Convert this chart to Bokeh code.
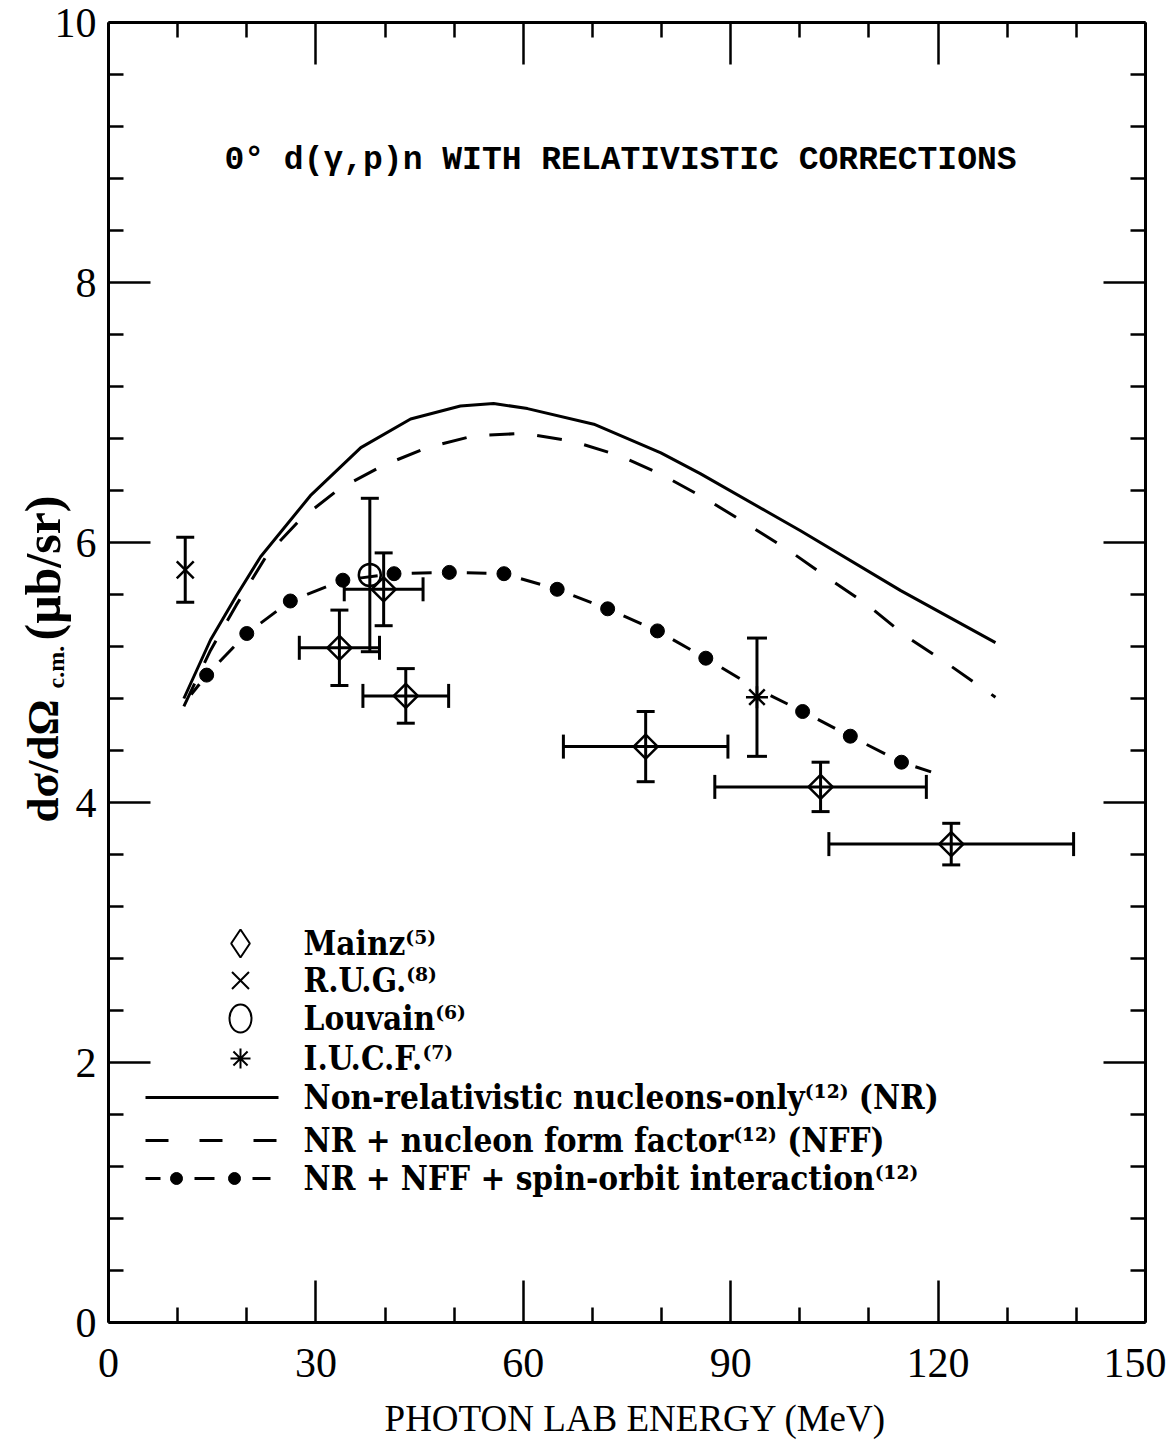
import math
from bokeh.plotting import figure
from bokeh.models import (Range1d, LinearAxis, FixedTicker, Label, Whisker, TeeHead,
                          ColumnDataSource, CustomJSTickFormatter)
from bokeh.embed import file_html
from bokeh.resources import INLINE

# ---------------- data ----------------
x_ticks = [0, 30, 60, 90, 120, 150]
x_minor = [10, 20, 40, 50, 70, 80, 100, 110, 130, 140]
y_ticks = [0, 2, 4, 6, 8, 10]
y_minor = [0.4, 0.8, 1.2, 1.6, 2.4, 2.8, 3.2, 3.6, 4.4, 4.8, 5.2, 5.6,
           6.4, 6.8, 7.2, 7.6, 8.4, 8.8, 9.2, 9.6]

# Mainz (diamonds) : energy, energy half-width, cross section, error
mainz_e = [33.4, 39.8, 43.0, 77.7, 103.0, 121.9]
mainz_de = [5.8, 5.7, 6.2, 11.9, 15.3, 17.7]
mainz_s = [5.19, 5.64, 4.82, 4.43, 4.12, 3.68]
mainz_ds = [0.29, 0.28, 0.21, 0.27, 0.19, 0.16]

# R.U.G. (x)
rug_e = [11.1]
rug_s = [5.79]
rug_ds = [0.25]

# Louvain (octagon)
louv_e = [37.8]
louv_s = [5.75]
louv_ds = [0.59]

# I.U.C.F. (asterisk)
iucf_e = [93.8]
iucf_s = [4.81]
iucf_ds = [0.455]

# Non-relativistic nucleons-only (NR)
nr_e = [10.9, 14.75, 18.5, 22.0, 29.2, 36.5, 43.7, 50.9, 55.7, 60.6, 70.2,
        79.9, 85.6, 100.1, 114.6, 128.3]
nr_s = [4.80, 5.25, 5.59, 5.89, 6.36, 6.73, 6.95, 7.05, 7.07, 7.03, 6.91,
        6.69, 6.53, 6.09, 5.63, 5.23]

# NR + nucleon form factor (NFF)
nff_e = [10.9, 14.75, 18.5, 23.0, 27.8, 33.3, 39.6, 46.1, 52.8, 60.1, 67.1,
         73.8, 80.1, 86.6, 92.4, 98.4, 104.0, 109.8, 115.3, 121.3, 128.3]
nff_s = [4.74, 5.17, 5.52, 5.91, 6.18, 6.41, 6.59, 6.73, 6.82, 6.84, 6.78,
         6.67, 6.52, 6.33, 6.14, 5.94, 5.73, 5.52, 5.28, 5.07, 4.81]

# NR + NFF + spin-orbit interaction
so_e = [10.9, 14.2, 20.0, 26.3, 33.9, 41.3, 49.3, 57.2, 64.9, 72.2, 79.4,
        86.4, 93.6, 100.4, 107.3, 114.7, 121.0]
so_s = [4.76, 4.98, 5.30, 5.55, 5.71, 5.76, 5.77, 5.76, 5.64, 5.49, 5.32,
        5.11, 4.88, 4.70, 4.51, 4.31, 4.20]
so_marked = [False, True, True, True, True, True, True, True, True, True, True,
             True, False, True, True, True, False]

legend_names = ["Mainz⁽⁵⁾", "R.U.G.⁽⁸⁾", "Louvain⁽⁶⁾", "I.U.C.F.⁽⁷⁾",
                "Non-relativistic nucleons-only⁽¹²⁾ (NR)",
                "NR + nucleon form factor⁽¹²⁾ (NFF)",
                "NR + NFF + spin-orbit interaction⁽¹²⁾"]

# ---------------- layout ----------------
W, H = 1166, 1444
L, R, T, B = 108, 1145, 22, 1322   # plot box in page pixels
XMAX, YMAX = 150.0, 10.0


def dx(px):
    return (px - L) * XMAX / (R - L)


def dy(py):
    return (B - py) * YMAX / (B - T)


# the frame covers the whole page; the axes are pinned at the data box
p = figure(width=W, height=H, output_backend="svg", toolbar_location=None,
           x_range=Range1d(dx(0), dx(W)), y_range=Range1d(dy(H), dy(0)),
           min_border=0, min_border_left=0, min_border_right=0,
           min_border_top=0, min_border_bottom=0,
           x_axis_location=None, y_axis_location=None)
p.title.visible = False
p.background_fill_color = "white"
p.border_fill_color = "white"
p.outline_line_color = None
p.xgrid.visible = False
p.ygrid.visible = False

TICK_FONT = "Liberation Serif"


def make_axis(ticks, minor, show_labels, standoff, loc, bounds):
    ax = LinearAxis(ticker=FixedTicker(ticks=ticks, minor_ticks=minor),
                    fixed_location=loc, bounds=bounds)
    ax.axis_line_width = 3
    ax.axis_line_color = "black"
    ax.major_tick_in = 42
    ax.major_tick_out = 0
    ax.minor_tick_in = 15
    ax.minor_tick_out = 0
    ax.major_tick_line_width = 2.5
    ax.minor_tick_line_width = 2.5
    ax.major_label_standoff = standoff
    ax.major_label_text_font = TICK_FONT
    ax.major_label_text_font_size = "42px"
    ax.major_label_text_color = "black"
    if not show_labels:
        ax.formatter = CustomJSTickFormatter(code="return ''")
    return ax


p.add_layout(make_axis(x_ticks, x_minor, True, 26, 0, (0, XMAX)), "below")
p.add_layout(make_axis(x_ticks, x_minor, False, 0, YMAX, (0, XMAX)), "above")
p.add_layout(make_axis(y_ticks, y_minor, True, 12, 0, (0, YMAX)), "left")
p.add_layout(make_axis(y_ticks, y_minor, False, 0, XMAX, (0, YMAX)), "right")

# ---------------- curves ----------------
p.line(nr_e, nr_s, line_color="black", line_width=3)
p.line(nff_e, nff_s, line_color="black", line_width=3, line_dash="25 23")

n = len(so_e)
sx0 = [so_e[i] + 0.32 * (so_e[i + 1] - so_e[i]) for i in range(n - 1)]
sy0 = [so_s[i] + 0.32 * (so_s[i + 1] - so_s[i]) for i in range(n - 1)]
sx1 = [so_e[i] + 0.68 * (so_e[i + 1] - so_e[i]) for i in range(n - 1)]
sy1 = [so_s[i] + 0.68 * (so_s[i + 1] - so_s[i]) for i in range(n - 1)]
p.segment(sx0, sy0, sx1, sy1, line_color="black", line_width=3)
ce = [e for e, m in zip(so_e, so_marked) if m]
cs = [s for s, m in zip(so_s, so_marked) if m]
p.scatter(ce, cs, marker="circle", size=14, fill_color="black", line_color="black")

# ---------------- error bars ----------------
def vbars(e, s, ds, head):
    src = ColumnDataSource(dict(x=e, lo=[a - b for a, b in zip(s, ds)],
                                hi=[a + b for a, b in zip(s, ds)]))
    p.add_layout(Whisker(source=src, base="x", lower="lo", upper="hi",
                         dimension="height", line_width=3, line_color="black",
                         lower_head=TeeHead(size=head, line_width=3),
                         upper_head=TeeHead(size=head, line_width=3)))


def hbars(e, de, s, head):
    src = ColumnDataSource(dict(y=s, lo=[a - b for a, b in zip(e, de)],
                                hi=[a + b for a, b in zip(e, de)]))
    p.add_layout(Whisker(source=src, base="y", lower="lo", upper="hi",
                         dimension="width", line_width=3, line_color="black",
                         lower_head=TeeHead(size=head, line_width=3),
                         upper_head=TeeHead(size=head, line_width=3)))


vbars(mainz_e, mainz_s, mainz_ds, 18)
hbars(mainz_e, mainz_de, mainz_s, 24)
vbars(rug_e, rug_s, rug_ds, 18)
vbars(louv_e, louv_s, louv_ds, 18)
vbars(iucf_e, iucf_s, iucf_ds, 20)

# ---------------- markers ----------------
p.scatter(mainz_e, mainz_s, marker="square", angle=math.pi / 4, size=17,
          fill_color=None, line_color="black", line_width=2.5)
p.scatter(rug_e, rug_s, marker="x", size=24, line_color="black", line_width=2.5)
p.scatter(louv_e, louv_s, marker="circle", size=22, fill_color=None,
          line_color="black", line_width=2.5)
p.scatter(iucf_e, iucf_s, marker="asterisk", size=22, line_color="black",
          line_width=2.5)

# ---------------- legend (drawn by hand) ----------------
rows = [943, 980, 1018, 1058, 1097, 1140, 1178]
sym_px = 240
txt_px = 303
p.scatter([dx(sym_px)], [dy(rows[0])], marker="diamond", size=28, fill_color=None,
          line_color="black", line_width=2)
p.scatter([dx(sym_px)], [dy(rows[1])], marker="x", size=24, line_color="black",
          line_width=2)
p.ellipse([dx(sym_px)], [dy(rows[2])], width=22, height=28, width_units="screen",
          height_units="screen", fill_color=None, line_color="black", line_width=2)
p.scatter([dx(sym_px)], [dy(rows[3])], marker="asterisk", size=20,
          line_color="black", line_width=2)
p.line([dx(145), dx(278)], [dy(rows[4])] * 2, line_color="black", line_width=3)
p.line([dx(145), dx(278)], [dy(rows[5])] * 2, line_color="black", line_width=3,
       line_dash="23 31")
p.segment([dx(a) for a in (145, 194, 252)], [dy(rows[6])] * 3,
          [dx(b) for b in (160, 214, 270)], [dy(rows[6])] * 3,
          line_color="black", line_width=3)
p.scatter([dx(176), dx(234)], [dy(rows[6])] * 2, marker="circle", size=12,
          fill_color="black", line_color="black")


def lab(px, py, text, size, font="Liberation Serif", style="normal",
        align="left", baseline="middle", angle=0.0):
    p.add_layout(Label(x=dx(px), y=dy(py), text=text, text_font=font,
                       text_font_size=f"{size}px", text_font_style=style,
                       text_align=align, text_baseline=baseline, angle=angle,
                       text_color="black"))


for name, ry in zip(legend_names, rows):
    lab(txt_px, ry, name, 33, font="DejaVu Serif Condensed", style="bold")

# ---------------- titles ----------------
lab(620, 160, "0° d(γ,p)n WITH RELATIVISTIC CORRECTIONS", 33,
    font="Liberation Mono", style="bold", align="center")
lab(635, 1418, "PHOTON LAB ENERGY (MeV)", 37, align="center")
lab(42, 822, "dσ/dΩ", 45, style="bold", angle=math.pi / 2)
lab(55, 688, "c.m.", 24, style="bold", angle=math.pi / 2)
lab(42, 640, "(μb/sr)", 50, style="bold", angle=math.pi / 2)

open("out.html", "w").write(file_html(p, INLINE))
